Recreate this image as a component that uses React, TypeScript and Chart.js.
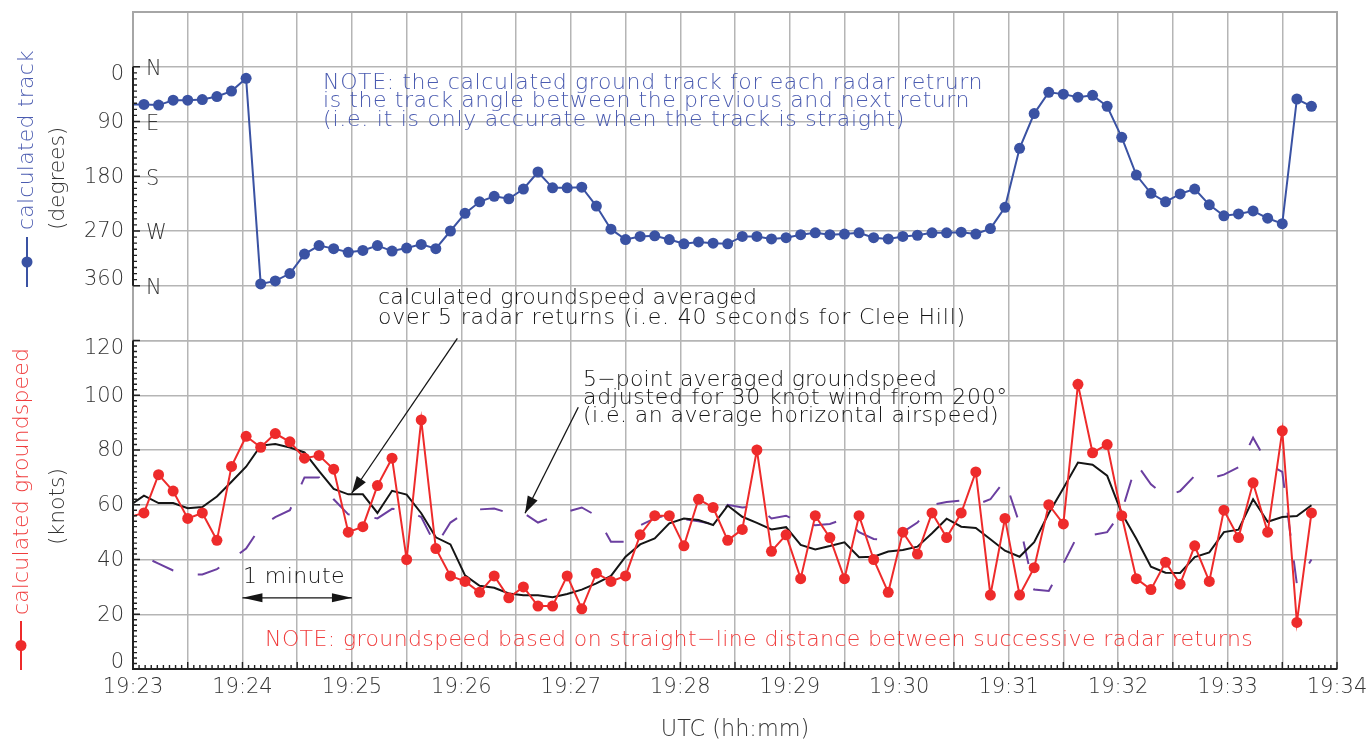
import React, { useEffect, useRef } from 'react';
import { Chart, registerables } from 'chart.js';

Chart.register(...registerables);

// ---- data (seconds after 19:23:00 UTC, one radar return every 8 s) ----
const TIMES_S = [-2, 6, 14, 22, 30, 38, 46, 54, 62, 70, 78, 86, 94, 102, 110, 118, 126, 134, 142, 150, 158, 166, 174, 182, 190, 198, 206, 214, 222, 230, 238, 246, 254, 262, 270, 278, 286, 294, 302, 310, 318, 326, 334, 342, 350, 358, 366, 374, 382, 390, 398, 406, 414, 422, 430, 438, 446, 454, 462, 470, 478, 486, 494, 502, 510, 518, 526, 534, 542, 550, 558, 566, 574, 582, 590, 598, 606, 614, 622, 630, 638, 646];

const TRACK_DEG = [62, 62, 63, 55, 55, 54, 49, 40, 19, 357, 352, 340, 308, 294, 299, 305, 302, 294, 303, 298, 292, 299, 270, 241, 222, 213, 217, 201, 173, 199, 199, 198, 229, 267, 284, 279, 278, 284, 291, 288, 290, 291, 279, 279, 283, 281, 276, 273, 276, 275, 273, 281, 283, 279, 277, 273, 273, 272, 275, 266, 231, 134, 77, 42, 45, 50, 47, 65, 116, 178, 208, 222, 209, 201, 227, 245, 242, 237, 249, 258, 53, 65];

const GROUNDSPEED_KT = [55.5, 57, 71, 65, 55, 57, 47, 74, 85, 81, 86, 83, 77, 78, 73, 50, 52, 67, 77, 40, 91, 44, 34, 32, 28, 34, 26, 30, 23, 23, 34, 22, 35, 32, 34, 49, 56, 56, 45, 62, 59, 47, 51, 80, 43, 49, 33, 56, 48, 33, 56, 40, 28, 50, 42, 57, 48, 57, 72, 27, 55, 27, 37, 60, 53, 104, 79, 82, 56, 33, 29, 39, 31, 45, 32, 58, 48, 68, 50, 87, 17, 57];

const AVG_GROUNDSPEED_KT = [59.6, 63.3, 60.6, 60.6, 58.7, 59.2, 63, 68.4, 73.9, 81.6, 82.2, 80.9, 79.1, 72.3, 65.8, 63.8, 63.8, 57, 65.1, 63.7, 56.9, 48.1, 45.5, 34.2, 30.4, 29.7, 27.6, 26.9, 26.9, 26.2, 27.4, 29, 31.3, 34, 41, 45.5, 47.7, 53.2, 55, 54.4, 52.6, 59.7, 55.6, 53.4, 51, 51.8, 45.3, 43.7, 44.9, 46.3, 40.8, 41, 42.9, 43.5, 44.7, 49.6, 54.9, 52, 51.5, 47.4, 43.2, 41, 46.3, 56.9, 66, 75.4, 74.6, 70.6, 56.9, 47.6, 37.4, 35.2, 35.1, 40.9, 42.6, 50, 50.9, 62, 53.8, 55.5, 55.9, 59.8];

const AIRSPEED_KT = [43, 41, 38.5, 36, 34.5, 34.5, 36.5, 40, 44, 52, 55.5, 58, 70, 70, 62, 56.5, 56, 55, 58.5, 58, 55.5, 45, 53.5, 57, 58.3, 58.6, 57, 57, 53.5, 55.5, 57.5, 59, 56, 46.5, 46.5, 52.5, 55, 56.5, 54.7, 54, 53, 60, 59, 59.5, 55, 56, 53.4, 52.5, 53, 54.8, 50, 47.5, 47, 50, 53.5, 60, 61, 61.5, 60, 62, 69, 53, 29, 28.5, 38.5, 49, 49, 50, 57.5, 75, 67.5, 63, 65, 70.6, 69.5, 71, 73.7, 84.5, 75, 72, 31, 40];

const X_TICK_LABELS = ['19:23', '19:24', '19:25', '19:26', '19:27', '19:28', '19:29', '19:30', '19:31', '19:32', '19:33', '19:34'];
const TRACK_TICKS = [0, 90, 180, 270, 360];
const SPEED_TICKS = [0, 20, 40, 60, 80, 100, 120];
const COMPASS_LABELS = ['N', 'E', 'S', 'W', 'N'];

// ---- styles ----
const FAMILY = "'DejaVu Sans', sans-serif";
const WEIGHT = 200;
const BLUE = '#3a52a3';
const BLUE_TEXT = '#4a5bb0';
const RED = '#ee2b2b';
const RED_TEXT = '#f03c3c';
const BLACK = '#151515';
const PURPLE = '#6b3fa0';
const GRID = '#b5b5b5';
const LABEL = '#333333';
const NOTE_SIZE = 22;

const fontStr = (size: number) => `${WEIGHT} ${size}px ${FAMILY}`;

// annotations in data units (x: seconds, y: value on given axis)
const NOTES = [
  { axis: 'yT', x: 104.2, y: 26.7, w: 660, color: BLUE_TEXT, text: 'NOTE: the calculated ground track for each radar retrurn' },
  { axis: 'yT', x: 104.2, y: 57, w: 647, color: BLUE_TEXT, text: 'is the track angle between the previous and next return' },
  { axis: 'yT', x: 104.2, y: 87.5, w: 582, color: BLUE_TEXT, text: '(i.e. it is only accurate when the track is straight)' },
  { axis: 'yS', x: 134.3, y: 135.5, w: 379, color: BLACK, text: 'calculated groundspeed averaged' },
  { axis: 'yS', x: 134.3, y: 128.2, w: 588, color: BLACK, text: 'over 5 radar returns (i.e. 40 seconds for Clee Hill)' },
  { axis: 'yS', x: 246.7, y: 105.6, w: 354, color: BLACK, text: '5\u2212point averaged groundspeed' },
  { axis: 'yS', x: 246.7, y: 99, w: 425, color: BLACK, text: 'adjusted for 30 knot wind from 200\u00b0' },
  { axis: 'yS', x: 246.7, y: 92.4, w: 416, color: BLACK, text: '(i.e. an average horizontal airspeed)' },
  { axis: 'yS', x: 72.4, y: 10.6, w: 988, color: RED_TEXT, text: 'NOTE: groundspeed based on straight\u2212line distance between successive radar returns' },
  { axis: 'yS', x: 60.3, y: 33.6, w: 102, color: BLACK, text: '1 minute' },
];

const ARROWS = [
  { from: [177.8, 120.8], to: [119.9, 64.2], both: false, len: 17, half: 5.5 },
  { from: [244.1, 95.6], to: [214.9, 56.9], both: false, len: 17, half: 5.5 },
  { from: [60, 26], to: [120, 26], both: true, len: 20, half: 4.5 },
];

function drawFitted(ctx: CanvasRenderingContext2D, text: string, x: number, y: number, width: number, color: string, size = NOTE_SIZE) {
  ctx.save();
  ctx.font = fontStr(size);
  ctx.fillStyle = color;
  ctx.textAlign = 'left';
  ctx.textBaseline = 'middle';
  (ctx as any).letterSpacing = '0px';
  const w = ctx.measureText(text).width;
  const ls = (width - w) / Math.max(1, text.length);
  (ctx as any).letterSpacing = `${ls}px`;
  ctx.fillText(text, x, y);
  ctx.restore();
}

function drawArrowHead(ctx: CanvasRenderingContext2D, x1: number, y1: number, x2: number, y2: number, len: number, half: number) {
  const a = Math.atan2(y2 - y1, x2 - x1);
  const bx = x2 - len * Math.cos(a);
  const by = y2 - len * Math.sin(a);
  ctx.beginPath();
  ctx.moveTo(x2, y2);
  ctx.lineTo(bx + half * Math.sin(a), by - half * Math.cos(a));
  ctx.lineTo(bx - half * Math.sin(a), by + half * Math.cos(a));
  ctx.closePath();
  ctx.fill();
}

const decorPlugin = {
  id: 'decor',
  beforeDatasetsDraw(chart: any) {
    const { ctx, chartArea: a } = chart;
    ctx.save();
    ctx.strokeStyle = '#a6a6a6';
    ctx.lineWidth = 2;
    ctx.strokeRect(a.left, a.top, a.right - a.left, a.bottom - a.top);
    ctx.restore();
  },
  afterDraw(chart: any) {
    const { ctx, chartArea: a, scales } = chart;
    const xs = scales.x, yT = scales.yT, yS = scales.yS;
    ctx.save();
    // axes (black) with inward minor ticks
    ctx.strokeStyle = '#222';
    ctx.lineWidth = 2;
    ctx.beginPath();
    ctx.moveTo(a.left, yT.getPixelForValue(0));
    ctx.lineTo(a.left, yT.getPixelForValue(360));
    ctx.moveTo(a.left, yS.getPixelForValue(120));
    ctx.lineTo(a.left, yS.getPixelForValue(0));
    ctx.lineTo(a.right, yS.getPixelForValue(0));
    ctx.stroke();
    ctx.lineWidth = 1.4;
    ctx.beginPath();
    for (let d = 0; d <= 360; d += 10) {
      const y = yT.getPixelForValue(d);
      const l = d % 90 === 0 ? 7 : 4;
      ctx.moveTo(a.left, y); ctx.lineTo(a.left + l, y);
    }
    for (let k = 0; k <= 120; k += 2) {
      const y = yS.getPixelForValue(k);
      const l = k % 20 === 0 ? 7 : 4;
      ctx.moveTo(a.left, y); ctx.lineTo(a.left + l, y);
    }
    const yb = yS.getPixelForValue(0);
    for (let i = 0; i <= 198; i++) {
      const x = xs.getPixelForValue((i * 10) / 3);
      const l = i % 9 === 0 ? 7 : 4;
      ctx.moveTo(x, yb); ctx.lineTo(x, yb - l);
    }
    ctx.stroke();

    // y tick labels (end labels nudged inward, as in the original)
    ctx.font = fontStr(21);
    ctx.fillStyle = LABEL;
    ctx.textAlign = 'right';
    ctx.textBaseline = 'middle';
    const yLabels = (scale: any, ticks: number[], firstTop: boolean) => {
      ticks.forEach((v, i) => {
        let y = scale.getPixelForValue(v);
        const isTopEnd = firstTop ? i === 0 : i === ticks.length - 1;
        const isBottomEnd = firstTop ? i === ticks.length - 1 : i === 0;
        if (isTopEnd) y += 7;
        if (isBottomEnd) y -= 7;
        ctx.fillText(String(v), a.left - 9, y + 1);
      });
    };
    yLabels(yT, TRACK_TICKS, true);
    yLabels(yS, SPEED_TICKS, false);

    // compass letters
    ctx.font = fontStr(21);
    ctx.textAlign = 'left';
    TRACK_TICKS.forEach((d, i) => {
      ctx.fillText(COMPASS_LABELS[i], a.left + 13, yT.getPixelForValue(d) + 3);
    });

    // notes
    NOTES.forEach((n) => {
      const sc = n.axis === 'yT' ? yT : yS;
      drawFitted(ctx, n.text, xs.getPixelForValue(n.x), sc.getPixelForValue(n.y), n.w, n.color);
    });

    // arrows
    ctx.strokeStyle = BLACK;
    ctx.fillStyle = BLACK;
    ctx.lineWidth = 1.3;
    ARROWS.forEach((ar) => {
      const x1 = xs.getPixelForValue(ar.from[0]);
      const y1 = yS.getPixelForValue(ar.from[1]);
      const x2 = xs.getPixelForValue(ar.to[0]);
      const y2 = yS.getPixelForValue(ar.to[1]);
      ctx.beginPath();
      ctx.moveTo(x1, y1);
      ctx.lineTo(x2, y2);
      ctx.stroke();
      drawArrowHead(ctx, x1, y1, x2, y2, ar.len, ar.half);
      if (ar.both) drawArrowHead(ctx, x2, y2, x1, y1, ar.len, ar.half);
    });

    // left titles with legend glyphs
    const rot = (text: string, cx: number, bottom: number, width: number, color: string) => {
      ctx.save();
      ctx.translate(cx, bottom);
      ctx.rotate(-Math.PI / 2);
      drawFitted(ctx, text, 0, 0, width, color);
      ctx.restore();
    };
    rot('calculated track', 27, 230, 180, BLUE_TEXT);
    rot('(degrees)', 58, 230, 103, LABEL);
    rot('calculated groundspeed', 22, 615, 267, RED_TEXT);
    rot('(knots)', 58, 545, 77, LABEL);

    const glyph = (x: number, y0: number, y1: number, color: string) => {
      ctx.strokeStyle = color;
      ctx.fillStyle = color;
      ctx.lineWidth = 2;
      ctx.beginPath();
      ctx.moveTo(x, y0);
      ctx.lineTo(x, y1);
      ctx.stroke();
      ctx.beginPath();
      ctx.arc(x, (y0 + y1) / 2, 5.5, 0, Math.PI * 2);
      ctx.fill();
    };
    glyph(27, 237, 287, BLUE);
    glyph(21, 621, 670, RED);
    ctx.restore();
  },
};

const pts = (vals: number[]) => vals.map((v, i) => ({ x: TIMES_S[i], y: v }));
const hideFirst = (r: number) => (c: any) => (c.raw && c.raw.x < 0 ? 0 : r);
const tickFont = { family: FAMILY, size: 21, weight: WEIGHT as any };

export default function App() {
  const ref = useRef<HTMLCanvasElement>(null);
  useEffect(() => {
    const canvas = ref.current;
    if (!canvas) return;
    const chart = new Chart(canvas, {
      type: 'line',
      data: {
        datasets: [
          {
            label: 'calculated groundspeed',
            data: pts(GROUNDSPEED_KT),
            yAxisID: 'yS',
            borderColor: RED,
            backgroundColor: RED,
            pointBackgroundColor: RED,
            pointBorderColor: RED,
            borderWidth: 2,
            pointRadius: hideFirst(5.5),
            pointBorderWidth: 0,
            clip: 0,
          },
          {
            label: '5-point average',
            data: pts(AVG_GROUNDSPEED_KT),
            yAxisID: 'yS',
            borderColor: BLACK,
            borderWidth: 2,
            pointRadius: 0,
            clip: 0,
          },
          {
            label: 'airspeed',
            data: pts(AIRSPEED_KT),
            yAxisID: 'yS',
            borderColor: PURPLE,
            borderWidth: 2,
            borderDash: [23, 25],
            borderDashOffset: 23,
            pointRadius: 0,
            clip: 0,
          },
          {
            label: 'calculated track',
            data: pts(TRACK_DEG),
            yAxisID: 'yT',
            borderColor: BLUE,
            backgroundColor: BLUE,
            pointBackgroundColor: BLUE,
            pointBorderColor: BLUE,
            borderWidth: 2,
            pointRadius: hideFirst(5.5),
            pointBorderWidth: 0,
            clip: 0,
          },
        ] as any,
      },
      options: {
        animation: false,
        responsive: false,
        devicePixelRatio: 1,
        events: [],
        layout: { padding: { left: 0, top: 12, right: 33, bottom: 0 }, autoPadding: false },
        plugins: { legend: { display: false }, tooltip: { enabled: false } },
        scales: {
          x: {
            type: 'linear',
            min: 0,
            max: 660,
            border: { display: false },
            grid: { color: GRID, lineWidth: 1.5, drawTicks: false },
            ticks: {
              stepSize: 30,
              autoSkip: false,
              maxRotation: 0,
              padding: 6,
              color: LABEL,
              font: tickFont,
              callback: (v: any) => (Number(v) % 60 === 0 ? X_TICK_LABELS[Number(v) / 60] : ''),
            },
            title: { display: true, text: 'UTC (hh:mm)', color: LABEL, font: { family: FAMILY, size: 22.4, weight: WEIGHT as any }, padding: { top: 0, bottom: 0 } },
            afterFit: (s: any) => { s.height = 75; s.paddingLeft = 0; s.paddingRight = 0; },
          },
          yT: {
            type: 'linear',
            position: 'left',
            stack: 'panels',
            stackWeight: 1,
            weight: 1,
            min: -90,
            max: 450,
            reverse: true,
            border: { display: false },
            grid: { color: GRID, lineWidth: 1.5, drawTicks: false },
            ticks: { stepSize: 90, display: false },
            afterFit: (s: any) => { s.width = 133; s.paddingTop = 0; s.paddingBottom = 0; },
          },
          yS: {
            type: 'linear',
            position: 'left',
            stack: 'panels',
            stackWeight: 1,
            weight: 0,
            min: 0,
            max: 120,
            border: { display: false },
            grid: { color: GRID, lineWidth: 1.5, drawTicks: false },
            ticks: { stepSize: 20, display: false },
            afterFit: (s: any) => { s.width = 133; s.paddingTop = 0; s.paddingBottom = 0; },
          },
        } as any,
      },
      plugins: [decorPlugin],
    });
    return () => chart.destroy();
  }, []);
  return (
    <div style={{ position: 'absolute', left: 0, top: 0, width: 1370, height: 744, background: '#fff' }}>
      <canvas ref={ref} width={1370} height={744} style={{ display: 'block', width: 1370, height: 744 }} />
    </div>
  );
}
